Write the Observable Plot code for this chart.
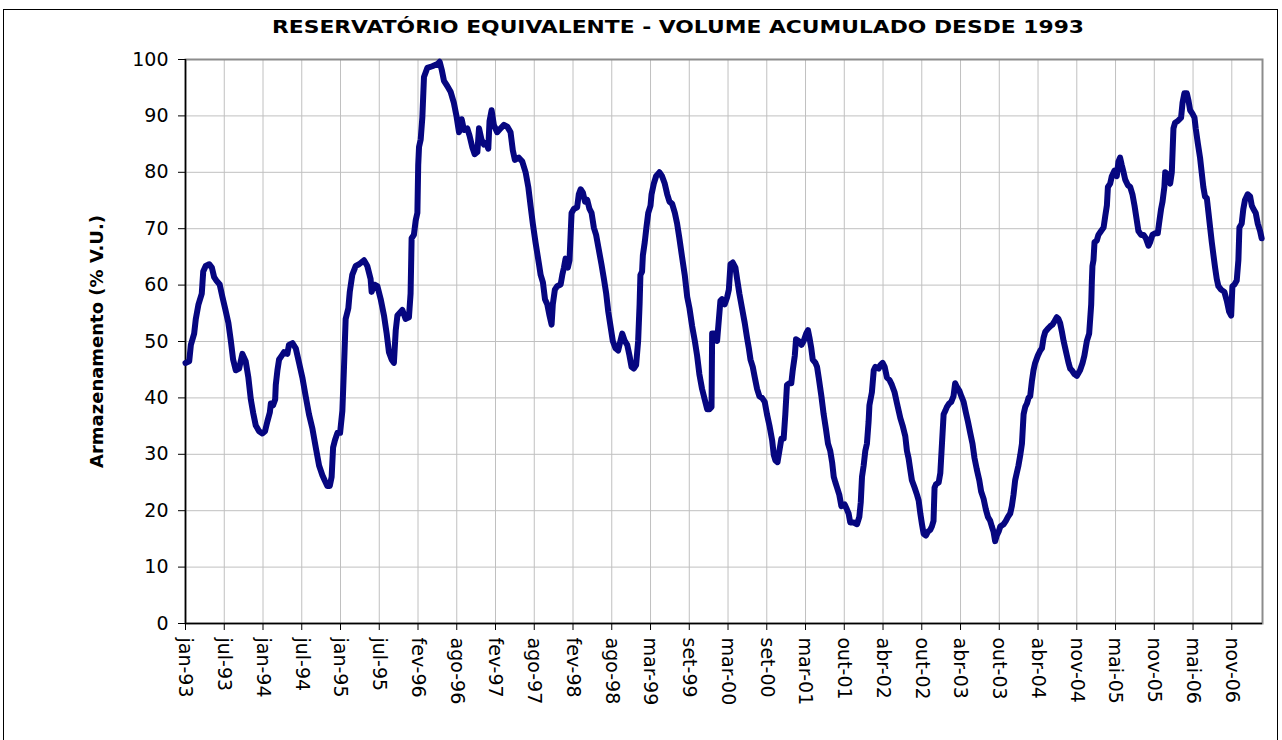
<!DOCTYPE html>
<html>
<head>
<meta charset="utf-8">
<script src="https://cdn.jsdelivr.net/npm/d3@7"></script>
<script src="https://cdn.jsdelivr.net/npm/@observablehq/plot@0.6"></script>
<style>
  html, body { margin: 0; padding: 0; background: #fff; overflow: hidden; }
  #wrap { position: relative; width: 1282px; height: 740px; }
  #border { position: absolute; left: 3px; top: 9px; width: 1275px; height: 800px; border: 1px solid #000; box-sizing: border-box; pointer-events: none; }
  #chart { position: absolute; left: 0; top: 0; }
</style>
</head>
<body>
<div id="wrap"><div id="chart"></div><div id="border"></div></div>
<script>
const title = "RESERVATÓRIO EQUIVALENTE - VOLUME ACUMULADO DESDE 1993";
const yLabel = "Armazenamento (% V.U.)";
const startDate = "1993-01-01";
const endDate = "2007-04-23";

// days since 1993-01-01
const days = [0,18,26,42,50,63,79,86,98,115,128,139,150,166,179,192,208,220,231,244,260,276,292,305,317,328,341,357,373,386,397,409,414,425,435,438,446,454,467,478,494,502,519,535,551,567,583,599,616,632,648,664,675,688,700,709,716,725,737,750,761,769,777,790,797,809,826,
842,866,882,898,903,915,931,947,963,976,987,1000,1011,1020,1028,1052,1068,1084,1092,1097,1108,1117,1125,1129,1133,1141,1149,1157,1173,1197,1222,1233,1243,1254,1270,1286,1302,1314,1327,1340,1351,1367,1378,1391,1403,1416,1424,1436,1448,1459,1469,1475,1485,1496,1512,1529,1545,1561,1577,1588,1598,1617,1634,1650,1663,1674,1685,
1698,1715,1723,1734,1744,1755,1766,1776,1782,1792,1803,1820,1828,1836,1844,1855,1863,1873,1884,1900,1908,1917,1928,1938,1949,1960,1970,1981,1992,2005,2018,2030,2041,2051,2062,2073,2086,2099,2110,2119,2131,2143,2154,2164,2175,2186,2196,2203,2207,2215,2219,2228,2236,2245,2256,2261,2272,2283,2299,2312,2325,2337,2348,2361,2374,2385,2396,2409,2422,2434,2445,2458,2471,2482,2493,2506,2519,2531,2542,2552,2555,2566,2579,
2595,2603,2616,2628,2636,2644,2655,2668,2676,2687,2700,2713,2724,2733,2741,2752,2762,2773,2784,2797,2810,2821,2833,2846,2854,2862,2872,2881,2891,2902,2910,2918,2930,2939,2946,2956,2962,2975,2988,2999,3011,3020,3027,3036,3043,3056,3064,3072,3085,3096,3107,3117,3128,3137,3145,3153,3161,3172,3182,3198,3209,3217,3225,3242,3258,3269,3276,3282,3290,3298,3306,3314,3318,3330,3339,3347,3363,3371,3382,3392,3403,3415,3427,3440,3452,
3468,3479,3492,3500,3508,3516,3524,3537,3549,3557,3565,3573,3581,3592,3602,3613,3621,3629,3634,3641,3654,3662,3670,3678,3686,3694,3705,3715,3726,3734,3743,3754,3764,3775,3786,3796,3807,3818,3828,3839,3851,3860,3872,3883,3893,3904,3912,3920,3928,3936,3945,3953,3969,3980,3990,4001,4009,4017,4025,4033,4041,4050,4058,4066,4074,4082,4090,4098,4106,4114,4122,4135,4147,4155,4163,4171,4184,4195,4206,4216,4227,4235,4243,4252,4260,4268,4276,4284,4292,4300,4313,4324,
4340,4352,4361,4373,4384,4389,4394,4397,4400,4405,4410,4421,4429,4442,4454,4462,4470,4475,4486,4494,4507,4518,4526,4534,4542,4551,4559,4572,4583,4594,4604,4615,4623,4636,4648,4659,4672,4680,4691,4704,4717,4723,4733,4740,4749,4753,4765,4777,4785,4793,4801,4814,4830,4837,4846,4858,4866,4874,4885,4895,4901,4911,4922,4930,4938,4946,4955,4963,4971,4979,4987,4995,5003,5011,5024,5040,5052,5063,5073,5079,5089,5100,5108,5113,5124,5132,5140,5153,5165,5173,5181,5192,5202,5213,5221];

// stored volume, % V.U.
const volume = [46.2,46.5,49.4,51.4,54.0,56.6,58.5,62.4,63.4,63.7,63.1,61.4,60.8,60.1,57.9,55.9,53.3,50.1,46.8,44.9,45.2,47.8,46.5,43.6,39.7,37.4,35.1,34.1,33.7,34.1,35.8,37.4,39.0,38.7,39.7,42.3,44.9,46.8,47.5,48.1,47.8,49.4,49.7,48.8,46.2,43.6,40.3,37.1,34.5,31.2,28.0,26.3,25.4,24.4,24.4,26.0,31.2,32.5,33.8,33.8,37.7,45.5,54.0,55.9,58.8,61.8,63.4,
63.7,64.4,63.4,61.1,58.8,60.1,59.8,57.5,54.6,51.4,48.1,46.8,46.2,52.0,54.6,55.6,54.0,54.3,58.5,68.3,68.9,71.5,72.8,81.3,84.5,85.8,89.7,96.9,98.5,98.8,99.2,99.6,98.2,96.2,95.3,94.3,92.3,90.1,87.1,89.4,87.5,87.8,86.5,84.5,83.2,83.6,87.8,85.8,84.9,85.2,84.2,89.1,91.0,88.4,87.1,87.8,88.4,88.1,87.1,83.9,82.2,82.6,81.9,80.0,77.4,74.1,70.9,
67.6,63.7,61.8,60.5,57.5,56.6,54.6,53.0,56.6,59.2,59.8,60.1,61.8,63.1,64.7,63.1,64.4,72.8,73.5,73.8,76.1,77.0,76.4,74.8,75.1,73.5,72.8,70.2,68.9,66.3,63.7,61.1,58.5,55.3,52.7,50.1,48.8,48.4,50.1,51.4,50.1,49.4,47.5,45.5,45.2,45.8,50.1,56.6,61.8,62.4,65.3,67.6,70.2,72.8,74.1,76.1,78.0,79.3,80.0,79.3,78.0,76.1,74.8,74.4,72.8,70.9,68.3,65.0,61.8,57.9,55.9,52.7,50.1,47.5,44.2,41.6,39.7,38.0,38.0,38.4,51.4,51.4,50.1,
57.2,57.5,56.6,57.9,59.2,63.7,64.0,63.1,61.1,58.5,55.9,53.3,50.7,48.8,46.8,45.5,43.6,41.6,40.3,40.0,39.3,37.1,35.1,32.5,29.9,28.9,28.6,30.6,32.8,32.8,37.1,42.3,42.6,42.6,44.9,47.5,50.4,50.1,49.4,50.1,51.4,52.0,50.7,48.8,46.8,46.2,45.5,43.6,40.3,37.1,34.5,31.9,30.6,28.6,26.0,25.0,24.1,22.8,20.8,21.1,20.2,19.5,17.9,17.9,17.6,18.9,21.5,26.0,28.0,30.6,31.9,35.8,38.7,41.0,44.9,45.5,45.2,45.8,46.2,45.5,43.6,43.2,42.3,41.0,39.0,
36.4,35.1,33.2,30.6,29.3,27.3,25.4,24.1,22.8,21.8,19.5,17.6,15.9,15.6,16.3,16.6,17.2,18.2,24.1,24.7,25.0,26.7,31.9,37.1,37.7,38.4,39.0,39.3,40.3,42.6,41.9,41.3,40.3,39.3,37.4,35.8,33.8,31.9,29.3,27.3,25.4,23.4,22.1,20.2,18.9,18.2,17.2,16.3,14.6,15.6,16.3,17.2,17.6,18.2,18.9,19.5,20.8,22.8,25.4,26.7,28.0,29.9,31.9,37.1,38.4,39.0,40.0,40.3,42.9,44.9,46.2,47.5,48.4,48.8,50.7,51.7,52.3,52.7,53.0,53.6,54.3,54.0,53.3,51.7,50.1,48.8,47.5,46.2,45.2,44.9,44.2,43.9,
44.9,46.2,47.5,50.1,51.4,54.0,56.6,60.5,63.4,64.4,67.6,67.9,68.9,69.6,70.2,72.2,74.1,77.4,78.0,79.3,80.3,79.3,81.9,82.6,81.3,80.0,78.7,77.7,77.4,76.1,74.1,71.5,69.6,68.9,68.9,68.3,67.0,67.6,68.9,69.2,69.2,70.9,73.5,74.8,77.4,80.0,79.6,78.0,80.0,87.8,88.8,89.1,89.7,92.3,94.0,94.0,92.7,91.0,90.4,89.7,87.8,85.2,82.6,80.0,77.4,75.7,75.4,72.8,70.2,67.6,65.3,63.1,61.1,59.8,59.2,58.8,57.2,55.3,54.6,59.8,60.1,60.8,64.4,70.2,70.9,73.5,75.1,76.1,75.7,74.1,73.5,72.8,70.9,69.6,68.3];

const tickDates = ["1993-01-01","1993-07-08","1994-01-12","1994-07-19","1995-01-23","1995-07-30","1996-02-03","1996-08-09","1997-02-13","1997-08-20","1998-02-24","1998-08-31","1999-03-07","1999-09-11","2000-03-17","2000-09-21","2001-03-28","2001-10-02","2002-04-08","2002-10-13","2003-04-19","2003-10-24","2004-04-29","2004-11-03","2005-05-10","2005-11-14","2006-05-21","2006-11-25"];
const tickLabels = ["jan-93","jul-93","jan-94","jul-94","jan-95","jul-95","fev-96","ago-96","fev-97","ago-97","fev-98","ago-98","mar-99","set-99","mar-00","set-00","mar-01","out-01","abr-02","out-02","abr-03","out-03","abr-04","nov-04","mai-05","nov-05","mai-06","nov-06"];
const yTicks = [0,10,20,30,40,50,60,70,80,90,100];

const t0 = Date.UTC(1993, 0, 1);
const data = days.map((d, i) => ({date: new Date(t0 + d * 864e5), v: volume[i]}));
const tickObjs = tickDates.map(s => new Date(s + "T00:00:00Z"));
const labelMap = new Map(tickObjs.map((d, i) => [+d, tickLabels[i]]));
const x0 = new Date(startDate + "T00:00:00Z");
const x1 = new Date(endDate + "T00:00:00Z");

const font = "'DejaVu Sans', Verdana, sans-serif";

const chart = Plot.plot({
  width: 1282,
  height: 740,
  marginLeft: 185,
  marginRight: 20,
  marginTop: 59,
  marginBottom: 117,
  style: {fontFamily: font, fontSize: "19px", color: "#000", background: "transparent", overflow: "visible"},
  x: {type: "utc", domain: [x0, x1]},
  y: {domain: [0, 100]},
  marks: [
    Plot.gridX(tickObjs, {stroke: "#c0c0c0", strokeOpacity: 1, strokeWidth: 1}),
    Plot.gridY(yTicks, {stroke: "#c0c0c0", strokeOpacity: 1, strokeWidth: 1}),
    Plot.frame({stroke: "#8c8c8c", strokeWidth: 2}),
    Plot.axisY(yTicks, {tickSize: 7, tickPadding: 10, label: null, stroke: "#000", fontSize: 19, tickFormat: d => String(d)}),
    Plot.axisX(tickObjs, {tickSize: 7, tickPadding: 7, label: null, tickRotate: 90, fontSize: 19, stroke: "#000", tickFormat: d => labelMap.get(+d)}),
    Plot.ruleX([x0], {stroke: "#000", strokeWidth: 1.5}),
    Plot.ruleY([0], {stroke: "#000", strokeWidth: 1.5}),
    Plot.line(data, {x: "date", y: "v", stroke: "#060680", strokeWidth: 6, strokeLinejoin: "round", strokeLinecap: "round", curve: "linear"}),
    Plot.text([title], {frameAnchor: "top", lineAnchor: "middle", dy: -32, dx: -46, fontWeight: "bold", fontSize: 18.5, fill: "#000"}),
    Plot.text([yLabel], {frameAnchor: "left", rotate: -90, textAnchor: "middle", lineAnchor: "middle", dx: -88, fontWeight: "bold", fontSize: 18, fill: "#000"})
  ]
});
document.getElementById("chart").appendChild(chart);

// horizontal widening of the title to match the reference lettering
chart.querySelectorAll("text").forEach(t => {
  if (t.textContent === title) {
    const tr = t.getAttribute("transform") || "";
    t.setAttribute("transform", tr + " scale(1.18,1)");
  }
});
</script>
</body>
</html>
